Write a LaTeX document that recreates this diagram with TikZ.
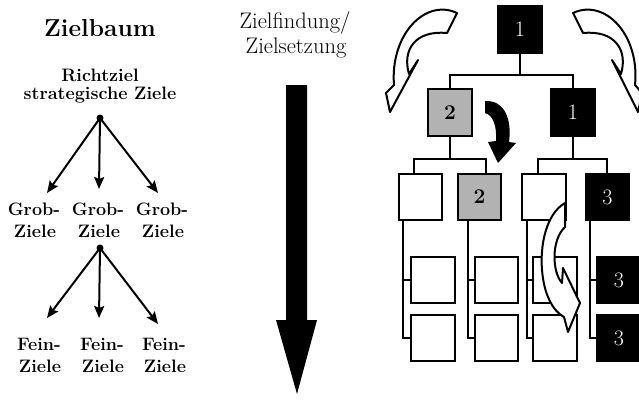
\documentclass[tikz,border=0pt]{standalone}
\usepackage{fontspec}
\usetikzlibrary{arrows.meta}
\begin{document}
\begin{tikzpicture}[x=1pt,y=-1pt,
  box/.style={draw,line width=2.4pt,minimum width=43.5pt,minimum height=46.5pt,inner sep=0pt,fill=white,
    font=\fontsize{22}{24}\selectfont},
  blackbox/.style={box,fill=black,text=white},
  greybox/.style={box,fill=black!30,font=\bfseries\fontsize{21}{24}\selectfont},
  conn/.style={line width=2pt},
  lbl/.style={anchor=base,inner sep=0pt,font=\bfseries\fontsize{18}{21}\selectfont},
  tarrow/.style={line width=2pt,-{Stealth[length=12pt,width=10pt,inset=2pt]}},
  hollow/.style={draw,line width=2pt,fill=white,line join=round},
]
\useasboundingbox (0,0) rectangle (639,400);

% ---------- left: Zielbaum ----------
\node[anchor=base,inner sep=0pt,font=\bfseries\fontsize{24.5}{27}\selectfont] (title) at (100,36) {Zielbaum};
\node[lbl] (r1) at (100,81) {Richtziel};
\node[lbl] (r2) at (100,99) {strategische Ziele};
\fill (100,118) circle (3.5) coordinate (d1);
\coordinate (e1) at (47,193);
\coordinate (e2) at (99,189);
\coordinate (e3) at (158,193);
\draw[tarrow] (d1) -- (e1);
\draw[tarrow] (d1) -- (e2);
\draw[tarrow] (d1) -- (e3);

\node[lbl] (g1a) at (34,215) {Grob-};
\node[lbl] (g1b) at (35,237) {Ziele};
\node[lbl] (g2a) at (98,215) {Grob-};
\node[lbl] (g2b) at (99,237) {Ziele};
\node[lbl] (g3a) at (162,215) {Grob-};
\node[lbl] (g3b) at (163,237) {Ziele};

\fill (100,248) circle (3.5) coordinate (d2);
\coordinate (f1) at (47,318);
\coordinate (f2) at (99,318);
\coordinate (f3) at (158,324);
\draw[tarrow] (d2) -- (f1);
\draw[tarrow] (d2) -- (f2);
\draw[tarrow] (d2) -- (f3);

\node[lbl] (h1a) at (39,350) {Fein-};
\node[lbl] (h1b) at (40,372) {Ziele};
\node[lbl] (h2a) at (102,350) {Fein-};
\node[lbl] (h2b) at (103,372) {Ziele};
\node[lbl] (h3a) at (164,350) {Fein-};
\node[lbl] (h3b) at (165,372) {Ziele};

% ---------- middle ----------
\node[anchor=base,inner sep=0pt,font=\fontsize{22.5}{25}\selectfont] (zf) at (295,28) {Zielfindung/};
\node[anchor=base,inner sep=0pt,font=\fontsize{22.5}{25}\selectfont] (zs) at (296,53) {Zielsetzung};
\fill (286,85) -- (307,85) -- (307,320) -- (317,320) -- (297,394) -- (276,320) -- (286,320) -- cycle;

% ---------- right: tree ----------
\node[blackbox] (b1) at (520,29.5) {1};
\node[greybox] (b2a) at (450,112.5) {2};
\node[blackbox] (b2b) at (573,112.5) {1};

\node[box] (cA) at (420.5,197) {};
\node[greybox] (cB) at (479.5,197) {2};
\node[box] (cC) at (544,197) {};
\node[blackbox] (cD) at (607.5,197) {3};

\node[box] (A1) at (433,280) {};
\node[box] (A2) at (433,338) {};
\node[box] (B1) at (496.5,280) {};
\node[box] (B2) at (496.5,338) {};
\node[box] (C1) at (555,280) {};
\node[box] (C2) at (555,338) {};
\node[blackbox] (D1) at (619,280) {3};
\node[blackbox] (D2) at (619,338) {3};

\coordinate (j1) at (520,75);
\draw[conn] (b1) -- (j1);
\draw[conn] (b2a.north) |- (j1) -| (b2b.north);

\coordinate (j2) at (450,159);
\coordinate (tA) at (414,0);
\coordinate (tB) at (486,0);
\draw[conn] (b2a) -- (j2);
\draw[conn] (cA.north -| tA) |- (j2) -| (cB.north -| tB);

\coordinate (j3) at (573,159);
\coordinate (tC) at (538,0);
\coordinate (tD) at (607,0);
\draw[conn] (b2b) -- (j3);
\draw[conn] (cC.north -| tC) |- (j3) -| (cD.north -| tD);

\coordinate (vA) at (403,0);
\coordinate (vB) at (468,0);
\coordinate (vC) at (527,0);
\coordinate (vD) at (590,0);
\draw[conn] (cA.south -| vA) |- (A1.west);
\draw[conn] (cA.south -| vA) |- (A2.west);
\draw[conn] (cB.south -| vB) |- (B1.west);
\draw[conn] (cB.south -| vB) |- (B2.west);
\draw[conn] (cC.south -| vC) |- (C1.west);
\draw[conn] (cC.south -| vC) |- (C2.west);
\draw[conn] (cD.south -| vD) |- (D1.west);
\draw[conn] (cD.south -| vD) |- (D2.west);

% ---------- curved arrows ----------
% left hollow
\path[hollow] (457,13) .. controls (425,-2) and (390,35) .. (394,85) -- (386,93) -- (390,112)
  -- (418,60) -- (409,74) .. controls (402,50) and (415,30) .. (447,33) -- cycle;
% right hollow
\path[hollow] (573,13) .. controls (605,-2) and (640,35) .. (635,85) -- (642,93) -- (638,112)
  -- (612,60) -- (621,74) .. controls (628,50) and (615,30) .. (583,33) -- cycle;
% small black
\fill (485,101) .. controls (505,100) and (512,120) .. (509,142) -- (516,143) -- (498,163)
  -- (488,142) -- (496,141) .. controls (497,126) and (493,115) .. (485,113) -- cycle;
% hollow in column C
\path[hollow] (565,203) .. controls (546,214) and (540,245) .. (542,270)
  .. controls (544,295) and (553,311) .. (564,317) -- (568,332) -- (580,303) -- (563,268)
  -- (562,283) .. controls (552,272) and (551,240) .. (565,227) -- cycle;
\end{tikzpicture}
\end{document}
